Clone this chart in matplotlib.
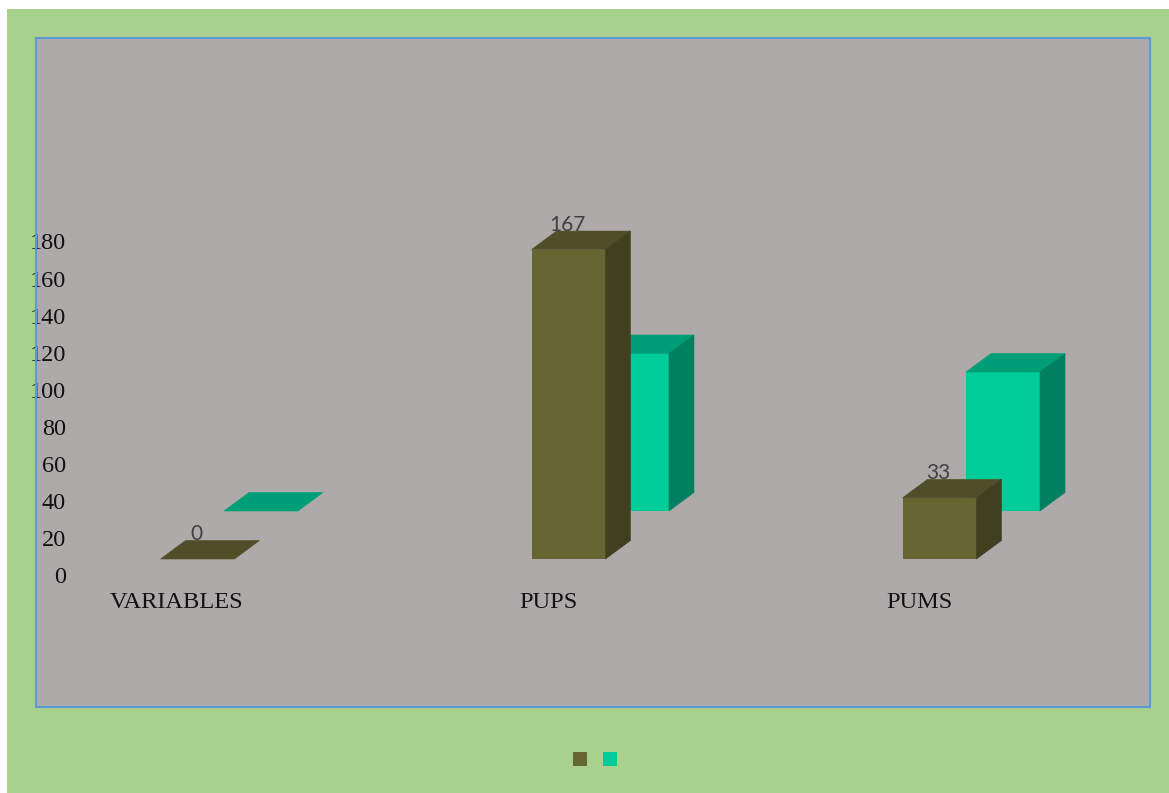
import matplotlib
matplotlib.use("Agg")
import matplotlib.pyplot as plt
from matplotlib.patches import Rectangle
from matplotlib.transforms import ScaledTranslation

categories = ["VARIABLES", "PUPS", "PUMS"]
olive_values = [0, 167, 33]
green_values = [0, 85, 75]
y_ticks = [0, 20, 40, 60, 80, 100, 120, 140, 160, 180]

W, H = 1169, 793
DPI = 100
PX_PER_CAT = 371
PX_PER_VAL = 1.853

# plot frame in pixels
L, R, T, B = 36, 1150, 38, 707
BASE_PX = 559      # pixel row of value 0, front bars
CENTER0_PX = 197.5 # pixel column of the first category

fig = plt.figure(figsize=(W / DPI, H / DPI), dpi=DPI, facecolor="white")
fig.patches.append(Rectangle((7 / W, 0), (W - 7) / W, (H - 9) / H, transform=fig.transFigure,
                             facecolor="#A9D18E", edgecolor="none", zorder=-5))

ax = fig.add_axes([L / W, 1 - B / H, (R - L) / W, (B - T) / H])
ax.set_facecolor("#AEAAAA")
ax.set_xlim((L - CENTER0_PX) / PX_PER_CAT, (R - CENTER0_PX) / PX_PER_CAT)
ax.set_ylim(-(B - BASE_PX) / PX_PER_VAL, (BASE_PX - T) / PX_PER_VAL)


def px(transx, transy):
    return transx / PX_PER_CAT, transy / PX_PER_VAL


bar_w = 74 / PX_PER_CAT
depth_x, depth_y = px(25, 18.5)
shift_x, shift_y = px(63.5, 48)


def box(x, value, base, front, top, side, z):
    left, right = x - bar_w / 2, x + bar_w / 2
    high = base + value
    ax.bar(x, value, bar_w, bottom=base, color=front, zorder=z)
    ax.fill([left, right, right + depth_x, left + depth_x],
            [high, high, high + depth_y, high + depth_y], color=top, lw=0.4, zorder=z)
    if value > 0:
        ax.fill([right, right + depth_x, right + depth_x, right],
                [base, base + depth_y, high + depth_y, high], color=side, lw=0.4, zorder=z)


for i, v in enumerate(green_values):
    box(i + shift_x, v, shift_y, "#00CC99", "#009E76", "#008060", 3)

for i, v in enumerate(olive_values):
    box(i, v, 0, "#666633", "#4F4E28", "#403F20", 4)
    ax.annotate(str(v), (i, v), xytext=(-1 * 0.72, 24.5 * 0.72), textcoords="offset points",
                ha="center", va="center", fontsize=15, family="Lato", color="#404040", zorder=5)

ax.set_yticks(y_ticks)
ax.set_yticklabels([str(t) for t in y_ticks], family="Liberation Serif", fontsize=17.5, color="#111111")
ax.set_xticks(range(len(categories)))
ax.set_xticklabels(categories, family="Liberation Serif", fontsize=17.6, color="#111111", va="center")
ax.tick_params(length=0, pad=0)

# tick labels sit away from the axes edges, like the original
y_off = ScaledTranslation(30 / DPI, -16 / DPI, fig.dpi_scale_trans)
for lab in ax.get_yticklabels():
    lab.set_transform(lab.get_transform() + y_off)
x_off = ScaledTranslation(-20.5 / DPI, 104 / DPI, fig.dpi_scale_trans)
for lab in ax.get_xticklabels():
    lab.set_transform(lab.get_transform() + x_off)

for s in ax.spines.values():
    s.set_color("#5B9BD5")
    s.set_linewidth(1.5)
    s.set_zorder(6)

# legend keys, the original has no legend text
fig.patches.append(Rectangle((573 / W, 1 - 766 / H), 14 / W, 14 / H, transform=fig.transFigure,
                             facecolor="#666633", edgecolor="none"))
fig.patches.append(Rectangle((603 / W, 1 - 766 / H), 14 / W, 14 / H, transform=fig.transFigure,
                             facecolor="#00CC99", edgecolor="none"))

plt.savefig("out.png", dpi=DPI)
plt.close()
